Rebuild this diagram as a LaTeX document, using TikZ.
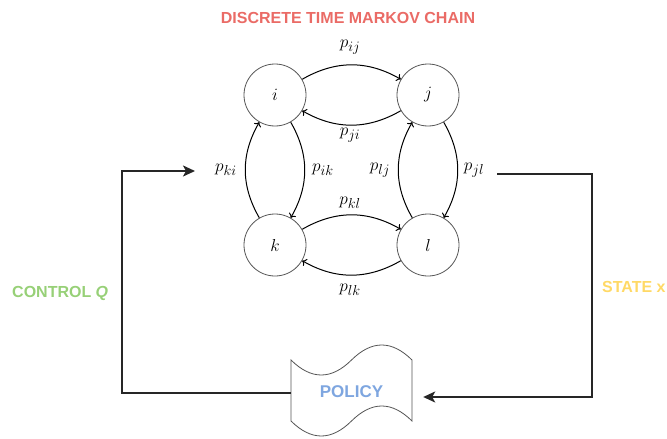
\documentclass[tikz,border=0pt]{standalone}
\usepackage{fontspec}
\setsansfont{Liberation Sans}
\usetikzlibrary{arrows.meta}
\definecolor{titlered}{HTML}{EA6B66}
\definecolor{ctrlgreen}{HTML}{97D077}
\definecolor{stateyellow}{HTML}{FFD966}
\definecolor{policyblue}{HTML}{7EA6E0}
\definecolor{loopline}{HTML}{262626}
\definecolor{ringgray}{HTML}{555555}
\begin{document}
\begin{tikzpicture}[x=1pt,y=1pt,
  state/.style={circle, draw=ringgray, line width=0.8pt, minimum size=62pt,
    inner sep=0pt, font=\fontsize{19}{22}\selectfont},
  trans/.style={-{To[length=4pt,width=8pt]}, line width=1pt, bend left=30},
  plab/.style={inner sep=0pt, font=\fontsize{19}{22}\selectfont},
  tag/.style={inner sep=0pt, font=\sffamily\bfseries\fontsize{16}{18}\selectfont},
  feedback/.style={draw=loopline, line width=1.8pt,
    -{Stealth[length=12pt,width=11pt,inset=3pt]}}]
\useasboundingbox (0,0) rectangle (667,-439);

% title
\node[tag, text=titlered] (title) at (348,-18) {DISCRETE TIME MARKOV CHAIN};

% states of the chain
\node[state] (i) at (275,-95) {$i$};
\node[state] (j) at (428,-95) {$j$};
\node[state] (k) at (275,-245) {$k$};
\node[state] (l) at (428,-245) {$l$};

% transitions
\draw[trans] (i) to (j);
\draw[trans] (j) to (i);
\draw[trans] (i) to (k);
\draw[trans] (k) to (i);
\draw[trans] (j) to (l);
\draw[trans] (l) to (j);
\draw[trans] (k) to (l);
\draw[trans] (l) to (k);

% transition probabilities
\node[plab] (pij) at (350,-47) {$p_{ij}$};
\node[plab] (pji) at (350,-135) {$p_{ji}$};
\node[plab] (pki) at (226,-170) {$p_{ki}$};
\node[plab] (pik) at (323,-170) {$p_{ik}$};
\node[plab] (plj) at (380,-170) {$p_{lj}$};
\node[plab] (pjl) at (474,-170) {$p_{jl}$};
\node[plab] (pkl) at (350,-203) {$p_{kl}$};
\node[plab] (plk) at (350,-290) {$p_{lk}$};

% policy block (tape)
\node[minimum width=121pt, minimum height=60pt, inner sep=0pt] (policy) at (351.5,-392) {};
\draw[draw=ringgray, fill=white, line width=0.8pt]
  (291,-360) .. controls (311.2,-380) and (331.3,-380) .. (351.5,-360)
             .. controls (371.7,-340) and (391.8,-340) .. (412,-360)
  -- (412,-421)
             .. controls (391.8,-401) and (371.7,-401) .. (351.5,-421)
             .. controls (331.3,-441) and (311.2,-441) .. (291,-421)
  -- cycle;
\node[tag, text=policyblue, font=\sffamily\bfseries\fontsize{17}{19}\selectfont] (policytext) at (policy) {POLICY};

% feedback loop
\coordinate (ctrlin) at (195,-171);
\coordinate (stateout) at (497,-174);
\draw[feedback] ([yshift=-1pt]policy.west) -| (122,-171) -- (ctrlin);
\draw[feedback] (stateout) -| (592,-397) -- ([xshift=11pt,yshift=-5pt]policy.east);

% loop labels
\node[tag, text=ctrlgreen, anchor=west] (ctrl) at (12,-293) {CONTROL \textit{Q}};
\node[tag, text=stateyellow, anchor=west] (st) at (602,-287) {STATE x};
\end{tikzpicture}
\end{document}
